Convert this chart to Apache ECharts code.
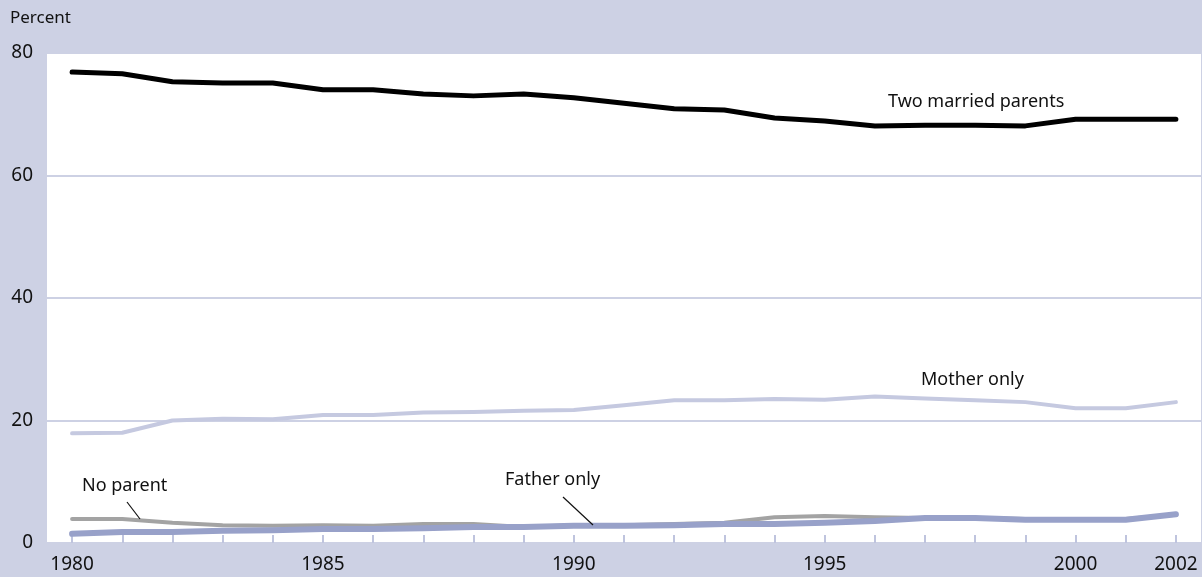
<!DOCTYPE html>
<html>
<head>
<meta charset="utf-8">
<script src="https://cdn.jsdelivr.net/npm/echarts@6/dist/echarts.min.js"></script>
<style>
  html, body { margin: 0; padding: 0; background: #cdd1e4; }
  #chart { width: 1202px; height: 577px; }
</style>
</head>
<body>
<div id="chart"></div>
<script>
const years = ['1980', '1981', '1982', '1983', '1984', '1985', '1986', '1987', '1988', '1989', '1990',
  '1991', '1992', '1993', '1994', '1995', '1996', '1997', '1998', '1999', '2000', '2001', '2002']
const labelYears = ['1980', '1985', '1990', '1995', '2000', '2002']
const twoParents = [76.9, 76.6, 75.3, 75.1, 75.1, 74.0, 74.0, 73.3, 73.0, 73.3, 72.7,
  71.8, 70.9, 70.7, 69.4, 68.9, 68.1, 68.2, 68.2, 68.1, 69.2, 69.2, 69.2]
const motherOnly = [17.9, 18.0, 20.0, 20.3, 20.2, 20.9, 20.9, 21.3, 21.4, 21.6, 21.7,
  22.5, 23.3, 23.3, 23.5, 23.4, 23.9, 23.6, 23.3, 23.0, 22.0, 22.0, 23.0]
const noParent = [3.9, 3.9, 3.3, 2.9, 2.8, 2.9, 2.8, 3.1, 3.1, 2.6, 2.9,
  2.9, 3.1, 3.3, 4.2, 4.4, 4.2, 4.1, 4.1, 3.9, 3.9, 3.9, 4.6]
const fatherOnly = [1.5, 1.8, 1.8, 2.0, 2.1, 2.3, 2.3, 2.4, 2.6, 2.6, 2.8,
  2.8, 2.9, 3.1, 3.1, 3.3, 3.6, 4.1, 4.1, 3.8, 3.8, 3.8, 4.7]

const lavender = '#cdd1e4'
const textFont = '"Noto Sans", sans-serif'

const chart = echarts.init(document.getElementById('chart'))

const lineSeries = (name, data, color, width, z) => ({
  name,
  type: 'line',
  data,
  symbol: 'none',
  z,
  lineStyle: { color, width, cap: 'round', join: 'round' },
  itemStyle: { color },
  silent: true,
})

const option = {
  backgroundColor: lavender,
  animation: false,
  grid: {
    left: 47,
    right: 1,
    top: 53,
    bottom: 34,
    show: true,
    backgroundColor: '#ffffff',
    borderWidth: 0,
  },
  xAxis: {
    type: 'category',
    data: years,
    boundaryGap: true,
    z: 3,
    axisLine: { show: true, lineStyle: { color: lavender, width: 1 } },
    axisTick: {
      show: true,
      inside: true,
      length: 8,
      interval: 0,
      alignWithLabel: true,
      lineStyle: { color: '#bfc4de', width: 2 },
    },
    axisLabel: {
      interval: (i, v) => labelYears.includes(v),
      color: '#111',
      fontSize: 19,
      fontFamily: textFont,
      margin: 12,
    },
    splitLine: { show: false },
  },
  yAxis: {
    type: 'value',
    min: 0,
    max: 80,
    interval: 20,
    axisLine: { show: false },
    axisTick: { show: false },
    axisLabel: {
      color: '#111',
      fontSize: 19,
      fontFamily: textFont,
      margin: 14,
    },
    splitLine: { lineStyle: { color: lavender, width: 2 } },
  },
  series: [
    lineSeries('Mother only', motherOnly, '#c5c9e0', 4, 2),
    lineSeries('No parent', noParent, '#a3a3a3', 4, 3),
    lineSeries('Father only', fatherOnly, '#98a1c9', 6, 4),
    lineSeries('Two married parents', twoParents, '#000000', 5, 5),
  ],
  graphic: [
    { type: 'text', left: 10, top: 10, style: { text: 'Percent', fontSize: 17, fontFamily: textFont, fill: '#111' } },
    { type: 'text', left: 888, top: 93, style: { text: 'Two married parents', fontSize: 18, fontFamily: textFont, fill: '#111' } },
    { type: 'text', left: 921, top: 371, style: { text: 'Mother only', fontSize: 18, fontFamily: textFont, fill: '#111' } },
    { type: 'text', left: 82, top: 477, style: { text: 'No parent', fontSize: 18, fontFamily: textFont, fill: '#111' } },
    { type: 'text', left: 505, top: 471, style: { text: 'Father only', fontSize: 18, fontFamily: textFont, fill: '#111' } },
    { type: 'line', z: 10, shape: { x1: 127, y1: 502, x2: 140, y2: 519 }, style: { stroke: '#111', lineWidth: 1.2 } },
    { type: 'line', z: 10, shape: { x1: 563, y1: 497, x2: 593, y2: 525 }, style: { stroke: '#111', lineWidth: 1.2 } },
  ],
}

chart.setOption(option)
</script>
</body>
</html>
